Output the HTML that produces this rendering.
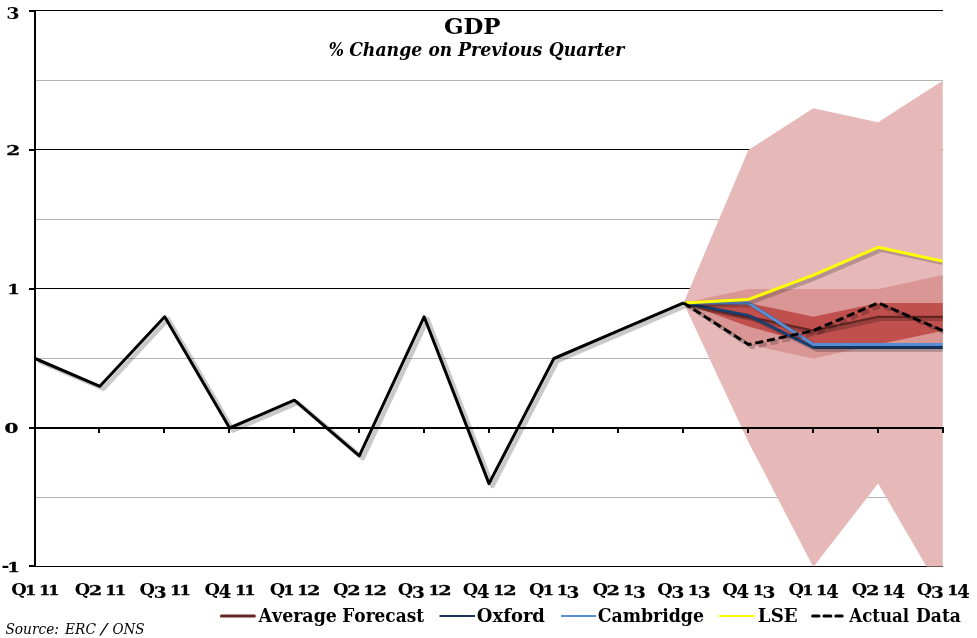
<!DOCTYPE html>
<html lang="en"><head><meta charset="utf-8"><title>GDP % Change on Previous Quarter</title>
<style>
html,body{margin:0;padding:0;background:#fff;}
body{width:977px;height:638px;overflow:hidden;}
svg{display:block;}
text{font-family:"DejaVu Serif","Liberation Serif",serif;fill:#000;font-kerning:none;}
.b{font-weight:bold;}
.bi{font-weight:bold;font-style:italic;}
.i{font-style:italic;}
</style></head><body>
<svg width="977" height="638" viewBox="0 0 977 638">
<defs>
<filter id="bl" x="-5%" y="-5%" width="110%" height="110%"><feGaussianBlur stdDeviation="0.65"/></filter>
<clipPath id="plot"><rect x="35" y="10" width="907.7" height="556.5"/></clipPath>
<clipPath id="plot2"><rect x="600" y="0" width="343.5" height="638"/></clipPath>
</defs>
<rect width="977" height="638" fill="#fff"/>

<rect x="36" y="80" width="907" height="1" fill="#b4b4b4"/>
<rect x="36" y="219" width="907" height="1" fill="#b4b4b4"/>
<rect x="36" y="358" width="907" height="1" fill="#b4b4b4"/>
<rect x="36" y="497" width="907" height="1" fill="#b4b4b4"/>
<rect x="36" y="10" width="907" height="1" fill="#000"/>
<rect x="36" y="149" width="907" height="1" fill="#000"/>
<rect x="36" y="288" width="907" height="1" fill="#000"/>
<rect x="36" y="566" width="907" height="1" fill="#000"/>
<g clip-path="url(#plot)">
<polygon points="683.6,302.9 748.4,150.0 813.3,108.3 878.1,122.2 943.0,80.5 943.0,594.8 878.1,483.6 813.3,567.0 748.4,441.9 683.6,302.9" fill="#E6B9B8"/>
<polygon points="683.6,302.9 748.4,289.0 813.3,289.0 878.1,289.0 943.0,275.1 943.0,344.6 878.1,344.6 813.3,358.5 748.4,344.6 683.6,302.9" fill="#D99694"/>
<polygon points="683.6,302.9 748.4,302.9 813.3,316.8 878.1,302.9 943.0,302.9 943.0,330.7 878.1,344.6 813.3,344.6 748.4,326.5 683.6,302.9" fill="#C0504D"/>
</g>
<rect x="34" y="10" width="2" height="557" fill="#000"/>
<rect x="29" y="10" width="6" height="2" fill="#000"/>
<rect x="29" y="149" width="6" height="2" fill="#000"/>
<rect x="29" y="288" width="6" height="2" fill="#000"/>
<rect x="29" y="565" width="6" height="2" fill="#000"/>
<rect x="29" y="427" width="915" height="2" fill="#000"/>
<rect x="98" y="428" width="2" height="5" fill="#000"/>
<rect x="163" y="428" width="2" height="5" fill="#000"/>
<rect x="228" y="428" width="2" height="5" fill="#000"/>
<rect x="293" y="428" width="2" height="5" fill="#000"/>
<rect x="358" y="428" width="2" height="5" fill="#000"/>
<rect x="423" y="428" width="2" height="5" fill="#000"/>
<rect x="488" y="428" width="2" height="5" fill="#000"/>
<rect x="552" y="428" width="2" height="5" fill="#000"/>
<rect x="617" y="428" width="2" height="5" fill="#000"/>
<rect x="682" y="428" width="2" height="5" fill="#000"/>
<rect x="747" y="428" width="2" height="5" fill="#000"/>
<rect x="812" y="428" width="2" height="5" fill="#000"/>
<rect x="877" y="428" width="2" height="5" fill="#000"/>
<rect x="942" y="428" width="2" height="5" fill="#000"/>
<g clip-path="url(#plot)">
<polyline points="683.6,302.9 748.4,316.8 813.3,330.7 878.1,316.8 943.0,316.8" transform="translate(3.5,2.4)" fill="none" stroke="#000" stroke-opacity="0.21" stroke-width="3.7" stroke-linejoin="round" filter="url(#bl)" />
<polyline points="683.6,302.9 748.4,316.8 813.3,330.7 878.1,316.8 943.0,316.8" fill="none" stroke="#632523" stroke-width="2.2" stroke-linejoin="round" />
<polyline points="683.6,302.9 748.4,315.4 813.3,347.4 878.1,347.4 943.0,347.4" transform="translate(3.5,2.4)" fill="none" stroke="#000" stroke-opacity="0.21" stroke-width="4.5" stroke-linejoin="round" filter="url(#bl)" />
<polyline points="683.6,302.9 748.4,315.4 813.3,347.4 878.1,347.4 943.0,347.4" fill="none" stroke="#1B3F70" stroke-width="3" stroke-linejoin="round" />
<polyline points="683.6,302.9 748.4,302.9 813.3,344.6 878.1,344.6 943.0,344.6" transform="translate(3.5,2.4)" fill="none" stroke="#000" stroke-opacity="0.21" stroke-width="4.5" stroke-linejoin="round" filter="url(#bl)" />
<polyline points="683.6,302.9 748.4,302.9 813.3,344.6 878.1,344.6 943.0,344.6" fill="none" stroke="#558ED5" stroke-width="3" stroke-linejoin="round" />
<polyline points="683.6,302.9 748.4,299.4 813.3,275.1 878.1,247.3 943.0,261.2" transform="translate(3.5,2.4)" fill="none" stroke="#000" stroke-opacity="0.21" stroke-width="4.5" stroke-linejoin="round" filter="url(#bl)" />
<polyline points="683.6,302.9 748.4,299.4 813.3,275.1 878.1,247.3 943.0,261.2" fill="none" stroke="#FFFF00" stroke-width="3" stroke-linejoin="round" />
</g>
<polyline points="35.0,358.5 99.9,386.3 164.7,316.8 229.6,428.0 294.4,400.2 359.3,455.8 424.1,316.8 489.0,483.6 553.9,358.5 618.7,330.7 683.6,302.9" transform="translate(3.5,2.4)" fill="none" stroke="#000" stroke-opacity="0.21" stroke-width="4.5" stroke-linejoin="round" filter="url(#bl)" />
<polyline points="35.0,358.5 99.9,386.3 164.7,316.8 229.6,428.0 294.4,400.2 359.3,455.8 424.1,316.8 489.0,483.6 553.9,358.5 618.7,330.7 683.6,302.9" fill="none" stroke="#000" stroke-width="3" stroke-linejoin="round" />
<g clip-path="url(#plot2)">
<polyline points="683.6,302.9 748.4,344.6 813.3,330.7 878.1,302.9 943.0,330.7" transform="translate(3.5,2.4)" fill="none" stroke="#000" stroke-opacity="0.21" stroke-width="4.5" stroke-linejoin="round" filter="url(#bl)" stroke-dasharray="8.2 3.8"/>
<polyline points="683.6,302.9 748.4,344.6 813.3,330.7 878.1,302.9 943.0,330.7" fill="none" stroke="#000" stroke-width="3" stroke-linejoin="round" stroke-dasharray="8.2 3.8"/>
</g>
<text class="b"><tspan x="443.94" y="34.00" font-size="22.60" textLength="56.63" lengthAdjust="spacingAndGlyphs">GDP</tspan></text>
<text class="bi"><tspan x="328.86" y="56.40" font-size="17.80" textLength="15.19" lengthAdjust="spacingAndGlyphs">%</tspan> <tspan x="349.14" y="56.40" font-size="17.80" textLength="73.10" lengthAdjust="spacingAndGlyphs">Change</tspan> <tspan x="428.52" y="56.40" font-size="17.80" textLength="23.55" lengthAdjust="spacingAndGlyphs">on</tspan> <tspan x="457.91" y="56.40" font-size="17.80" textLength="84.45" lengthAdjust="spacingAndGlyphs">Previous</tspan> <tspan x="548.74" y="56.40" font-size="17.80" textLength="75.52" lengthAdjust="spacingAndGlyphs">Quarter</tspan></text>
<text class="b"><tspan x="6.26" y="18.57" font-size="16.39" textLength="13.37" lengthAdjust="spacingAndGlyphs">3</tspan></text>
<text class="b"><tspan x="6.26" y="155.00" font-size="13.74" textLength="13.94" lengthAdjust="spacingAndGlyphs" stroke="#000" stroke-width="0.3">2</tspan></text>
<text class="b"><tspan x="7.29" y="294.00" font-size="13.47" textLength="12.62" lengthAdjust="spacingAndGlyphs" stroke="#000" stroke-width="0.3">1</tspan></text>
<text class="b"><tspan x="4.57" y="432.81" font-size="13.22" textLength="13.87" lengthAdjust="spacingAndGlyphs" stroke="#000" stroke-width="0.3">0</tspan></text>
<text class="b"><tspan x="1.57" y="571.32" font-size="15.93" textLength="7.85" lengthAdjust="spacingAndGlyphs">-</tspan><tspan x="7.29" y="572.00" font-size="13.47" textLength="12.62" lengthAdjust="spacingAndGlyphs" stroke="#000" stroke-width="0.3">1</tspan></text>
<text class="b"><tspan x="11.35" y="594.60" font-size="17.38" textLength="15.51" lengthAdjust="spacingAndGlyphs">Q</tspan><tspan x="25.02" y="594.60" font-size="12.67" textLength="11.30" lengthAdjust="spacingAndGlyphs" stroke="#000" stroke-width="0.3">1</tspan> <tspan x="38.92" y="594.60" font-size="12.67" textLength="11.30" lengthAdjust="spacingAndGlyphs" stroke="#000" stroke-width="0.3">1</tspan><tspan x="48.32" y="594.60" font-size="12.67" textLength="11.30" lengthAdjust="spacingAndGlyphs" stroke="#000" stroke-width="0.3">1</tspan></text>
<text class="b"><tspan x="74.71" y="594.60" font-size="17.38" textLength="15.51" lengthAdjust="spacingAndGlyphs">Q</tspan><tspan x="88.87" y="594.60" font-size="12.67" textLength="13.42" lengthAdjust="spacingAndGlyphs" stroke="#000" stroke-width="0.3">2</tspan> <tspan x="105.27" y="594.60" font-size="12.67" textLength="11.30" lengthAdjust="spacingAndGlyphs" stroke="#000" stroke-width="0.3">1</tspan><tspan x="114.67" y="594.60" font-size="12.67" textLength="11.30" lengthAdjust="spacingAndGlyphs" stroke="#000" stroke-width="0.3">1</tspan></text>
<text class="b"><tspan x="139.57" y="594.60" font-size="17.38" textLength="15.51" lengthAdjust="spacingAndGlyphs">Q</tspan><tspan x="153.72" y="597.86" font-size="17.06" textLength="12.88" lengthAdjust="spacingAndGlyphs" stroke="#000" stroke-width="0.2">3</tspan> <tspan x="170.13" y="594.60" font-size="12.67" textLength="11.30" lengthAdjust="spacingAndGlyphs" stroke="#000" stroke-width="0.3">1</tspan><tspan x="179.53" y="594.60" font-size="12.67" textLength="11.30" lengthAdjust="spacingAndGlyphs" stroke="#000" stroke-width="0.3">1</tspan></text>
<text class="b"><tspan x="204.42" y="594.60" font-size="17.38" textLength="15.51" lengthAdjust="spacingAndGlyphs">Q</tspan><tspan x="218.74" y="598.10" font-size="17.79" textLength="12.47" lengthAdjust="spacingAndGlyphs" stroke="#000" stroke-width="0.2">4</tspan> <tspan x="234.99" y="594.60" font-size="12.67" textLength="11.30" lengthAdjust="spacingAndGlyphs" stroke="#000" stroke-width="0.3">1</tspan><tspan x="244.39" y="594.60" font-size="12.67" textLength="11.30" lengthAdjust="spacingAndGlyphs" stroke="#000" stroke-width="0.3">1</tspan></text>
<text class="b"><tspan x="269.68" y="594.60" font-size="17.38" textLength="15.51" lengthAdjust="spacingAndGlyphs">Q</tspan><tspan x="283.35" y="594.60" font-size="12.67" textLength="11.30" lengthAdjust="spacingAndGlyphs" stroke="#000" stroke-width="0.3">1</tspan> <tspan x="297.25" y="594.60" font-size="12.67" textLength="11.30" lengthAdjust="spacingAndGlyphs" stroke="#000" stroke-width="0.3">1</tspan><tspan x="307.14" y="594.60" font-size="12.67" textLength="13.42" lengthAdjust="spacingAndGlyphs" stroke="#000" stroke-width="0.3">2</tspan></text>
<text class="b"><tspan x="333.04" y="594.60" font-size="17.38" textLength="15.51" lengthAdjust="spacingAndGlyphs">Q</tspan><tspan x="347.19" y="594.60" font-size="12.67" textLength="13.42" lengthAdjust="spacingAndGlyphs" stroke="#000" stroke-width="0.3">2</tspan> <tspan x="363.60" y="594.60" font-size="12.67" textLength="11.30" lengthAdjust="spacingAndGlyphs" stroke="#000" stroke-width="0.3">1</tspan><tspan x="373.49" y="594.60" font-size="12.67" textLength="13.42" lengthAdjust="spacingAndGlyphs" stroke="#000" stroke-width="0.3">2</tspan></text>
<text class="b"><tspan x="397.89" y="594.60" font-size="17.38" textLength="15.51" lengthAdjust="spacingAndGlyphs">Q</tspan><tspan x="412.05" y="597.86" font-size="17.06" textLength="12.88" lengthAdjust="spacingAndGlyphs" stroke="#000" stroke-width="0.2">3</tspan> <tspan x="428.46" y="594.60" font-size="12.67" textLength="11.30" lengthAdjust="spacingAndGlyphs" stroke="#000" stroke-width="0.3">1</tspan><tspan x="438.35" y="594.60" font-size="12.67" textLength="13.42" lengthAdjust="spacingAndGlyphs" stroke="#000" stroke-width="0.3">2</tspan></text>
<text class="b"><tspan x="462.75" y="594.60" font-size="17.38" textLength="15.51" lengthAdjust="spacingAndGlyphs">Q</tspan><tspan x="477.06" y="598.10" font-size="17.79" textLength="12.47" lengthAdjust="spacingAndGlyphs" stroke="#000" stroke-width="0.2">4</tspan> <tspan x="493.32" y="594.60" font-size="12.67" textLength="11.30" lengthAdjust="spacingAndGlyphs" stroke="#000" stroke-width="0.3">1</tspan><tspan x="503.21" y="594.60" font-size="12.67" textLength="13.42" lengthAdjust="spacingAndGlyphs" stroke="#000" stroke-width="0.3">2</tspan></text>
<text class="b"><tspan x="529.11" y="594.60" font-size="17.38" textLength="15.51" lengthAdjust="spacingAndGlyphs">Q</tspan><tspan x="542.77" y="594.60" font-size="12.67" textLength="11.30" lengthAdjust="spacingAndGlyphs" stroke="#000" stroke-width="0.3">1</tspan> <tspan x="556.67" y="594.60" font-size="12.67" textLength="11.30" lengthAdjust="spacingAndGlyphs" stroke="#000" stroke-width="0.3">1</tspan><tspan x="566.56" y="597.86" font-size="17.06" textLength="12.88" lengthAdjust="spacingAndGlyphs" stroke="#000" stroke-width="0.2">3</tspan></text>
<text class="b"><tspan x="592.47" y="594.60" font-size="17.38" textLength="15.51" lengthAdjust="spacingAndGlyphs">Q</tspan><tspan x="606.62" y="594.60" font-size="12.67" textLength="13.42" lengthAdjust="spacingAndGlyphs" stroke="#000" stroke-width="0.3">2</tspan> <tspan x="623.03" y="594.60" font-size="12.67" textLength="11.30" lengthAdjust="spacingAndGlyphs" stroke="#000" stroke-width="0.3">1</tspan><tspan x="632.92" y="597.86" font-size="17.06" textLength="12.88" lengthAdjust="spacingAndGlyphs" stroke="#000" stroke-width="0.2">3</tspan></text>
<text class="b"><tspan x="657.32" y="594.60" font-size="17.38" textLength="15.51" lengthAdjust="spacingAndGlyphs">Q</tspan><tspan x="671.48" y="597.86" font-size="17.06" textLength="12.88" lengthAdjust="spacingAndGlyphs" stroke="#000" stroke-width="0.2">3</tspan> <tspan x="687.89" y="594.60" font-size="12.67" textLength="11.30" lengthAdjust="spacingAndGlyphs" stroke="#000" stroke-width="0.3">1</tspan><tspan x="697.78" y="597.86" font-size="17.06" textLength="12.88" lengthAdjust="spacingAndGlyphs" stroke="#000" stroke-width="0.2">3</tspan></text>
<text class="b"><tspan x="722.18" y="594.60" font-size="17.38" textLength="15.51" lengthAdjust="spacingAndGlyphs">Q</tspan><tspan x="736.49" y="598.10" font-size="17.79" textLength="12.47" lengthAdjust="spacingAndGlyphs" stroke="#000" stroke-width="0.2">4</tspan> <tspan x="752.74" y="594.60" font-size="12.67" textLength="11.30" lengthAdjust="spacingAndGlyphs" stroke="#000" stroke-width="0.3">1</tspan><tspan x="762.63" y="597.86" font-size="17.06" textLength="12.88" lengthAdjust="spacingAndGlyphs" stroke="#000" stroke-width="0.2">3</tspan></text>
<text class="b"><tspan x="788.54" y="594.60" font-size="17.38" textLength="15.51" lengthAdjust="spacingAndGlyphs">Q</tspan><tspan x="802.20" y="594.60" font-size="12.67" textLength="11.30" lengthAdjust="spacingAndGlyphs" stroke="#000" stroke-width="0.3">1</tspan> <tspan x="816.10" y="594.60" font-size="12.67" textLength="11.30" lengthAdjust="spacingAndGlyphs" stroke="#000" stroke-width="0.3">1</tspan><tspan x="826.15" y="598.10" font-size="17.79" textLength="12.47" lengthAdjust="spacingAndGlyphs" stroke="#000" stroke-width="0.2">4</tspan></text>
<text class="b"><tspan x="851.89" y="594.60" font-size="17.38" textLength="15.51" lengthAdjust="spacingAndGlyphs">Q</tspan><tspan x="866.05" y="594.60" font-size="12.67" textLength="13.42" lengthAdjust="spacingAndGlyphs" stroke="#000" stroke-width="0.3">2</tspan> <tspan x="882.46" y="594.60" font-size="12.67" textLength="11.30" lengthAdjust="spacingAndGlyphs" stroke="#000" stroke-width="0.3">1</tspan><tspan x="892.51" y="598.10" font-size="17.79" textLength="12.47" lengthAdjust="spacingAndGlyphs" stroke="#000" stroke-width="0.2">4</tspan></text>
<text class="b"><tspan x="916.75" y="594.60" font-size="17.38" textLength="15.51" lengthAdjust="spacingAndGlyphs">Q</tspan><tspan x="930.91" y="597.86" font-size="17.06" textLength="12.88" lengthAdjust="spacingAndGlyphs" stroke="#000" stroke-width="0.2">3</tspan> <tspan x="947.32" y="594.60" font-size="12.67" textLength="11.30" lengthAdjust="spacingAndGlyphs" stroke="#000" stroke-width="0.3">1</tspan><tspan x="957.36" y="598.10" font-size="17.79" textLength="12.47" lengthAdjust="spacingAndGlyphs" stroke="#000" stroke-width="0.2">4</tspan></text>
<line x1="221.5" y1="616.0" x2="254.3" y2="616.0" stroke="#632523" stroke-width="3.2" stroke-linecap="round"/>
<text class="b"><tspan x="258.54" y="621.80" font-size="17.80" textLength="78.35" lengthAdjust="spacingAndGlyphs">Average</tspan> <tspan x="342.30" y="621.80" font-size="17.80" textLength="81.78" lengthAdjust="spacingAndGlyphs">Forecast</tspan></text>
<line x1="439.5" y1="616.0" x2="475" y2="616.0" stroke="#17375E" stroke-width="2" />
<text class="b"><tspan x="476.85" y="621.80" font-size="17.80" textLength="68.08" lengthAdjust="spacingAndGlyphs">Oxford</tspan></text>
<line x1="561" y1="616.0" x2="596" y2="616.0" stroke="#558ED5" stroke-width="2" />
<text class="b"><tspan x="597.67" y="621.80" font-size="17.80" textLength="106.31" lengthAdjust="spacingAndGlyphs">Cambridge</tspan></text>
<line x1="719" y1="616.0" x2="754.6" y2="616.0" stroke="#FFFF00" stroke-width="2" />
<text class="b"><tspan x="757.85" y="621.80" font-size="17.80" textLength="39.78" lengthAdjust="spacingAndGlyphs">LSE</tspan></text>
<line x1="812.5999999999999" y1="616.0" x2="819.0" y2="616.0" stroke="#000" stroke-width="3.0" stroke-linecap="round"/>
<line x1="823.9" y1="616.0" x2="830.9000000000001" y2="616.0" stroke="#000" stroke-width="3.0" stroke-linecap="round"/>
<line x1="835.8" y1="616.0" x2="842.2" y2="616.0" stroke="#000" stroke-width="3.0" stroke-linecap="round"/>
<text class="b"><tspan x="849.33" y="621.80" font-size="17.80" textLength="59.78" lengthAdjust="spacingAndGlyphs">Actual</tspan> <tspan x="916.00" y="621.80" font-size="17.80" textLength="44.89" lengthAdjust="spacingAndGlyphs">Data</tspan></text>
<text class="i"><tspan x="5.40" y="634.10" font-size="14.90" textLength="53.57" lengthAdjust="spacingAndGlyphs">Source:</tspan> <tspan x="65.01" y="634.10" font-size="14.90" textLength="30.95" lengthAdjust="spacingAndGlyphs">ERC</tspan> <tspan x="100.74" y="634.10" font-size="14.90" textLength="6.51" lengthAdjust="spacingAndGlyphs">/</tspan> <tspan x="112.47" y="634.10" font-size="14.90" textLength="32.13" lengthAdjust="spacingAndGlyphs">ONS</tspan></text>
</svg></body></html>
